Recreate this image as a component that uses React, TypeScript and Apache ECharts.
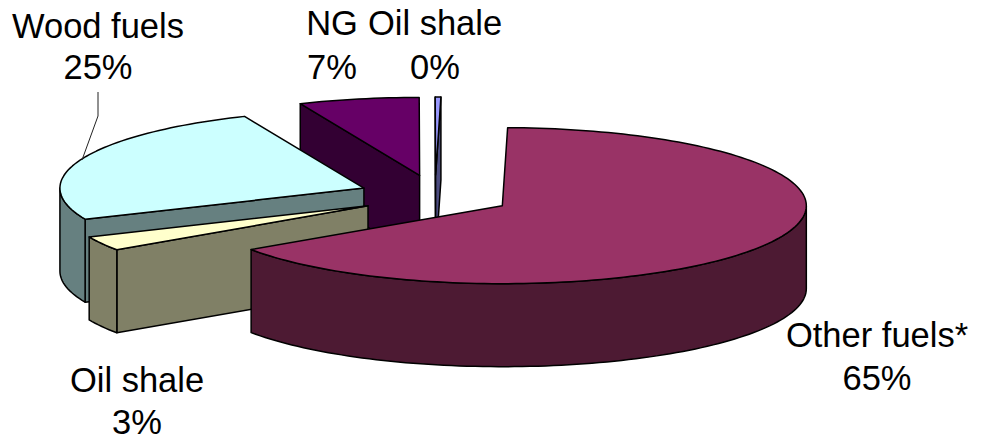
import React, { useEffect, useRef } from "react";
import * as echarts from "echarts";

const categories = ["Other fuels*", "Oil shale", "Wood fuels", "NG", "Oil shale"];
const values = [65.2, 3.0, 25.1, 6.4, 0.3];
const percentLabels = ["65%", "3%", "25%", "7%", "0%"];
const topColors = ["#993366", "#FFFFCC", "#CCFFFF", "#660066", "#9999FF"];
const sideColors = ["#4D1A33", "#808066", "#668080", "#330033", "#4C4C80"];
const paintOrder = [3, 4, 2, 1, 0];
const labelCentres = [
  [877, 335, 378],
  [137, 380, 422],
  [98, 26, 67],
  [332, 23, 67],
  [435, 23, 67],
];

const START_DEG = 271;
const CX = 435;
const CY = 195.8;
const RX = 304;
const RY = 78;
const DEPTH = 83;
const EXPLODE_X = 76.5;
const EXPLODE_Y = 20.8;
const STROKE = "#000";

const total = values.reduce((a, b) => a + b, 0);
const rad = (d: number) => (d * Math.PI) / 180;

function sliceAngles(i: number) {
  let a = START_DEG;
  for (let k = 0; k < i; k++) a += (values[k] / total) * 360;
  return [a, a + (values[i] / total) * 360];
}

function rim(ax: number, ay: number, from: number, to: number, dy = 0) {
  const pts: number[][] = [];
  const n = Math.max(2, Math.ceil(Math.abs(to - from) / 1.5));
  for (let k = 0; k <= n; k++) {
    const t = rad(from + ((to - from) * k) / n);
    pts.push([ax + RX * Math.cos(t), ay + RY * Math.sin(t) + dy]);
  }
  return pts;
}

function renderSlice(_: any, api: any) {
  const i = api.value(0);
  const [a0, a1] = sliceAngles(i);
  const mid = rad((a0 + a1) / 2);
  const ax = CX + EXPLODE_X * Math.cos(mid);
  const ay = CY + EXPLODE_Y * Math.sin(mid);
  const children: any[] = [];
  const face = (points: number[][], fill: string) =>
    children.push({
      type: "polygon",
      shape: { points },
      style: { fill, stroke: STROKE, lineWidth: 1.5, lineJoin: "round" },
    });

  const cut = (a: number) => {
    const t = rad(a);
    const x = ax + RX * Math.cos(t);
    const y = ay + RY * Math.sin(t);
    face([[ax, ay], [x, y], [x, y + DEPTH], [ax, ay + DEPTH]], sideColors[i]);
  };
  if (-Math.cos(rad(a0)) > 1e-6) cut(a0);
  if (Math.cos(rad(a1)) > 1e-6) cut(a1);

  for (const base of [0, 360]) {
    const from = Math.max(a0, base);
    const to = Math.min(a1, base + 180);
    if (to > from) {
      face(
        [...rim(ax, ay, from, to), ...rim(ax, ay, to, from, DEPTH)],
        sideColors[i]
      );
    }
  }
  face([[ax, ay], ...rim(ax, ay, a0, a1)], topColors[i]);
  return { type: "group", children };
}

export default function App() {
  const ref = useRef<HTMLDivElement>(null);
  useEffect(() => {
    const chart = echarts.init(ref.current!, undefined, { renderer: "svg" });
    const textEls: any[] = [];
    categories.forEach((name, i) => {
      const [x, y1, y2] = labelCentres[i];
      [[name, y1], [percentLabels[i], y2]].forEach(([t, y]) =>
        textEls.push({
          type: "text",
          x,
          y,
          style: {
            text: t,
            fill: "#000",
            font: '34.5px "Liberation Sans", Arial, sans-serif',
            textAlign: "center",
            textVerticalAlign: "middle",
          },
        })
      );
    });
    chart.setOption({
      animation: false,
      backgroundColor: "#fff",
      series: [
        {
          type: "custom",
          coordinateSystem: "none",
          renderItem: renderSlice,
          data: paintOrder.map((i) => [i]),
          silent: true,
        },
      ],
      graphic: [
        {
          type: "polyline",
          z: 10,
          shape: { points: [[98, 92], [98, 116], [82, 160]] },
          style: { fill: "none", stroke: "#222", lineWidth: 1 },
        },
        ...textEls.map((t) => ({ ...t, z: 10 })),
      ],
    });
    return () => chart.dispose();
  }, []);
  return (
    <div
      ref={ref}
      style={{ position: "fixed", left: 0, top: 0, width: 981, height: 437 }}
    />
  );
}
